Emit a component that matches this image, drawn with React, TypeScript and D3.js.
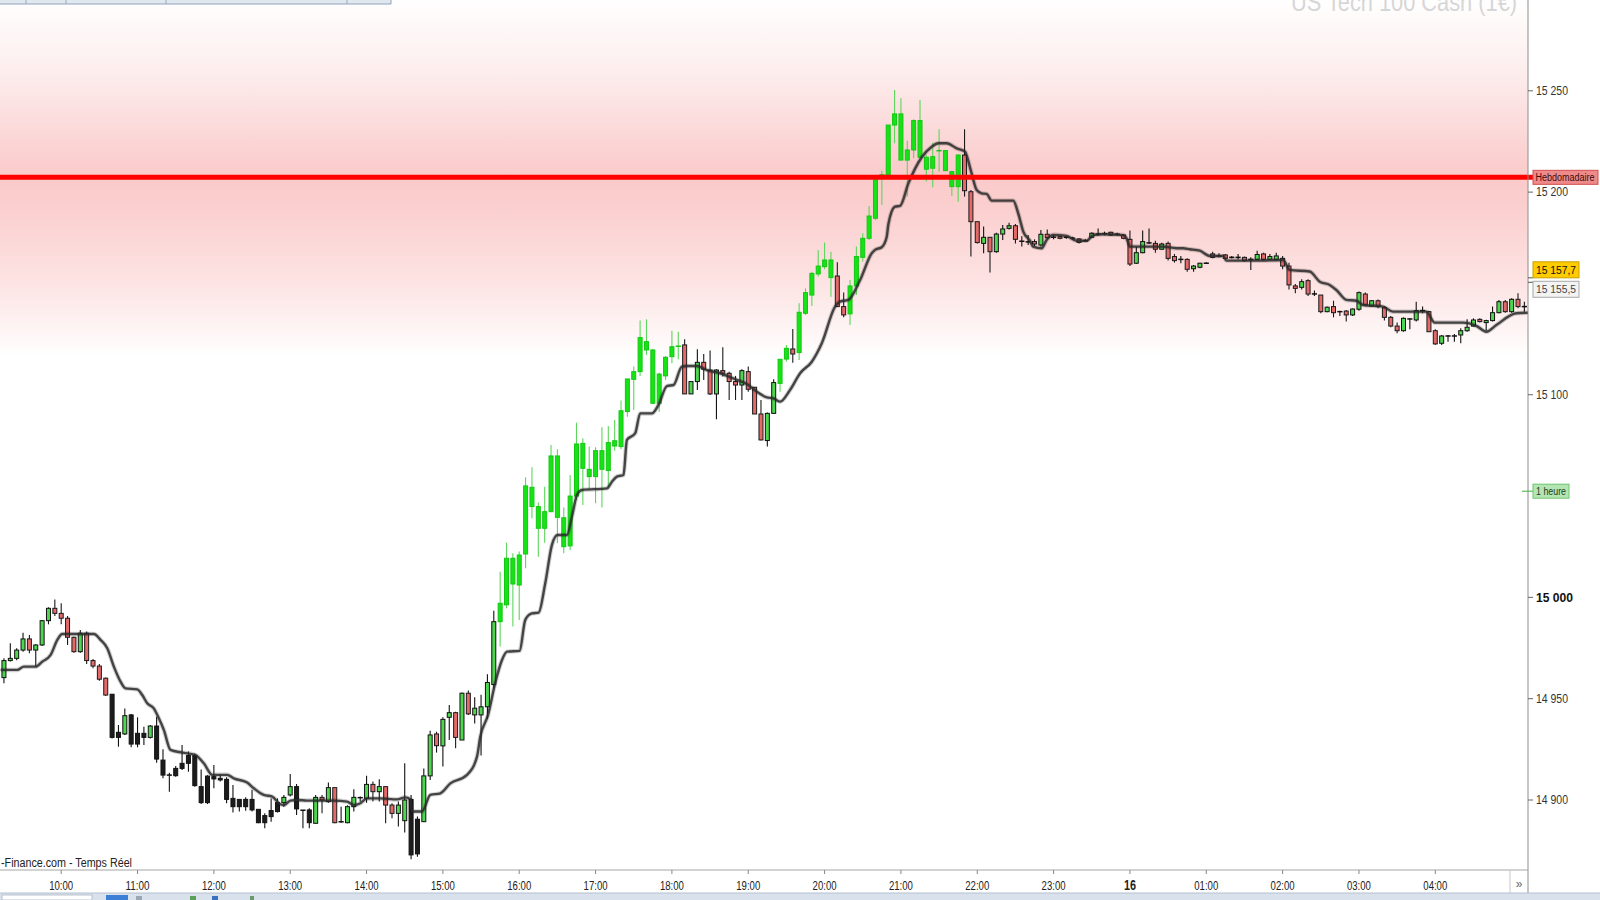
import React from "react";
import * as d3 from "d3";

// ---------- DATA (5-minute candles, US Tech 100 Cash) ----------
const firstCandle = new Date(2021, 6, 15, 9, 15);
const candleStepMin = 5;

const candleOpen = [
  14960.4, 14968.8, 14969.9, 14974.0, 14979.5, 14974.0, 14976.5, 14988.5, 14994.6, 14992.1,
  14989.7, 14980.3, 14973.2, 14982.3, 14968.8, 14966.1, 14960.1, 14952.2, 14933.4, 14932.6,
  14942.0, 14932.9, 14932.9, 14930.9, 14936.5, 14919.7, 14912.6, 14915.6, 14918.1, 14921.9,
  14921.9, 14906.6, 14911.8, 14911.5, 14910.7, 14910.2, 14900.8, 14900.3, 14900.3, 14900.3,
  14895.4, 14892.3, 14894.8, 14898.7, 14898.7, 14902.5, 14906.6, 14895.1, 14895.1, 14888.5,
  14901.3, 14899.2, 14906.1, 14889.5, 14888.8, 14896.7, 14901.3, 14900.8, 14907.7, 14904.1,
  14906.6, 14897.5, 14893.4, 14889.8, 14900.3, 14890.5, 14889.3, 14911.9, 14932.6, 14926.7,
  14940.8, 14943.1, 14929.6, 14952.7, 14942.0, 14942.0, 14946.0, 14957.0, 14988.0, 14996.3,
  15006.6, 15006.1, 15021.4, 15044.8, 15034.1, 15034.1, 15042.3, 15039.5, 15025.0, 15025.4,
  15050.0, 15063.7, 15059.6, 15059.6, 15063.2, 15062.6, 15074.7, 15074.4, 15091.7, 15107.6,
  15111.4, 15122.1, 15095.8, 15095.8, 15109.3, 15118.8, 15123.8, 15124.6, 15100.4, 15106.5,
  15116.0, 15112.2, 15100.4, 15111.9, 15110.6, 15106.5, 15104.8, 15111.4, 15103.7, 15090.5,
  15077.4, 15090.8, 15105.6, 15117.6, 15122.6, 15120.8, 15140.2, 15149.2, 15159.6, 15163.2,
  15157.8, 15158.6, 15143.5, 15139.9, 15153.7, 15167.8, 15177.2, 15187.1, 15208.1, 15208.5,
  15233.1, 15215.8, 15215.8, 15220.8, 15217.2, 15211.3, 15211.8, 15220.1, 15210.6, 15202.7,
  15202.7, 15218.3, 15200.2, 15185.4, 15174.7, 15177.7, 15170.6, 15179.3, 15182.1, 15183.4,
  15175.9, 15175.7, 15175.6, 15173.9, 15179.2, 15178.0, 15178.0, 15177.8, 15177.5, 15176.9,
  15176.1, 15177.7, 15179.4, 15179.6, 15180.2, 15179.3, 15178.8, 15176.7, 15164.9, 15170.1,
  15175.2, 15174.7, 15171.8, 15174.7, 15168.2, 15166.9, 15166.8, 15162.2, 15162.9, 15165.0,
  15169.5, 15168.6, 15169.0, 15167.9, 15167.9, 15167.8, 15166.9, 15166.8, 15169.5, 15166.8,
  15166.8, 15167.3, 15163.5, 15153.7, 15153.0, 15156.3, 15149.9, 15149.2, 15141.0, 15143.5,
  15141.1, 15141.3, 15139.4, 15142.2, 15149.7, 15143.8, 15146.4, 15143.0, 15138.2, 15133.9,
  15131.6, 15137.5, 15136.9, 15141.6, 15141.0, 15131.6, 15125.4, 15129.1, 15129.1, 15129.5,
  15131.6, 15133.9, 15137.2, 15135.6, 15136.6, 15140.5, 15145.9, 15141.0, 15147.1, 15143.6,
];

const candleHigh = [
  14970.0, 14977.3, 14974.9, 14982.6, 14981.4, 14977.0, 14988.8, 14995.1, 14999.0, 14997.1,
  14990.8, 14980.6, 14983.9, 14983.1, 14969.6, 14967.1, 14960.5, 14952.2, 14937.0, 14945.2,
  14942.5, 14940.8, 14936.2, 14937.0, 14941.1, 14925.0, 14913.5, 14916.8, 14927.2, 14923.9,
  14923.0, 14915.1, 14912.3, 14917.3, 14912.4, 14911.2, 14907.4, 14900.3, 14901.3, 14905.0,
  14895.4, 14893.4, 14900.8, 14900.8, 14902.5, 14912.8, 14907.9, 14895.1, 14895.9, 14902.5,
  14902.5, 14908.6, 14906.1, 14896.7, 14897.4, 14905.3, 14901.7, 14912.0, 14909.1, 14910.2,
  14906.6, 14898.4, 14899.2, 14918.1, 14902.5, 14891.8, 14915.6, 14934.2, 14933.7, 14940.8,
  14946.9, 14943.6, 14953.0, 14954.0, 14950.7, 14952.0, 14962.0, 14993.4, 15012.7, 15027.0,
  15021.8, 15022.6, 15059.3, 15064.2, 15046.8, 15054.6, 15075.2, 15073.1, 15044.4, 15060.4,
  15086.2, 15078.5, 15074.4, 15074.1, 15083.9, 15084.6, 15087.5, 15097.1, 15107.8, 15113.9,
  15136.6, 15137.2, 15122.4, 15110.9, 15119.1, 15131.6, 15131.1, 15127.4, 15106.5, 15122.4,
  15120.1, 15121.8, 15112.6, 15123.4, 15111.4, 15109.3, 15112.6, 15113.9, 15103.7, 15097.4,
  15091.2, 15107.6, 15117.5, 15124.6, 15132.5, 15145.1, 15152.5, 15160.7, 15171.4, 15175.1,
  15170.6, 15165.4, 15150.4, 15156.6, 15173.1, 15179.7, 15193.2, 15208.5, 15210.6, 15233.1,
  15250.4, 15246.3, 15225.4, 15235.9, 15245.5, 15218.3, 15224.4, 15231.0, 15220.5, 15210.6,
  15218.8, 15231.0, 15201.0, 15185.4, 15183.0, 15177.7, 15180.0, 15183.8, 15184.9, 15184.3,
  15178.2, 15178.8, 15176.7, 15181.3, 15181.6, 15178.8, 15178.4, 15178.4, 15178.0, 15177.2,
  15176.7, 15180.2, 15182.1, 15180.5, 15180.5, 15180.0, 15179.2, 15181.0, 15173.1, 15181.0,
  15182.1, 15176.0, 15175.0, 15175.6, 15169.5, 15168.5, 15167.3, 15164.0, 15165.2, 15165.4,
  15170.6, 15169.8, 15169.5, 15168.5, 15169.5, 15168.2, 15167.8, 15171.1, 15170.1, 15169.5,
  15170.1, 15168.5, 15165.2, 15154.7, 15157.0, 15157.0, 15151.4, 15149.2, 15143.5, 15146.4,
  15141.5, 15141.8, 15142.6, 15150.9, 15150.4, 15146.7, 15147.0, 15143.8, 15138.9, 15135.6,
  15138.2, 15137.7, 15145.9, 15143.5, 15141.5, 15132.3, 15129.5, 15129.5, 15130.0, 15132.8,
  15137.2, 15137.7, 15137.7, 15137.0, 15143.5, 15146.8, 15146.8, 15147.6, 15150.1, 15145.9,
];

const candleLow = [
  14957.6, 14968.3, 14969.0, 14973.2, 14972.4, 14965.8, 14976.0, 14986.7, 14990.8, 14986.7,
  14976.5, 14972.7, 14972.7, 14967.1, 14965.0, 14958.9, 14951.3, 14930.4, 14926.3, 14932.1,
  14926.0, 14926.0, 14927.2, 14930.4, 14918.4, 14910.7, 14904.1, 14911.5, 14914.8, 14914.0,
  14906.6, 14898.0, 14898.0, 14905.8, 14909.1, 14898.4, 14893.8, 14894.3, 14894.7, 14894.3,
  14888.5, 14886.0, 14889.3, 14893.8, 14896.7, 14901.7, 14892.6, 14886.0, 14886.0, 14888.5,
  14893.4, 14898.7, 14888.5, 14888.8, 14888.5, 14894.3, 14899.2, 14898.7, 14899.2, 14899.2,
  14888.5, 14891.0, 14886.9, 14883.9, 14870.7, 14872.0, 14889.3, 14909.9, 14923.4, 14916.5,
  14929.6, 14925.5, 14929.6, 14942.0, 14937.8, 14922.0, 14940.0, 14955.0, 14975.7, 14994.6,
  14985.6, 14988.8, 15014.4, 15039.0, 15020.1, 15027.0, 15042.0, 15026.7, 15021.8, 15023.4,
  15048.1, 15045.6, 15053.0, 15046.4, 15044.4, 15054.6, 15072.4, 15073.1, 15089.2, 15092.5,
  15109.3, 15119.6, 15095.4, 15091.6, 15107.3, 15115.5, 15117.5, 15100.4, 15100.4, 15102.4,
  15107.3, 15099.9, 15087.9, 15109.0, 15097.4, 15097.4, 15097.4, 15101.5, 15090.5, 15077.4,
  15074.4, 15090.8, 15101.5, 15116.3, 15115.8, 15117.2, 15139.4, 15143.8, 15158.3, 15161.9,
  15148.4, 15143.5, 15138.2, 15134.4, 15149.2, 15165.7, 15176.4, 15186.2, 15193.6, 15208.5,
  15224.1, 15215.8, 15197.8, 15216.7, 15216.7, 15205.2, 15202.4, 15210.1, 15210.6, 15198.1,
  15195.3, 15197.8, 15168.2, 15174.7, 15169.8, 15160.3, 15170.1, 15176.4, 15181.6, 15174.7,
  15173.1, 15173.9, 15173.4, 15173.1, 15176.7, 15176.7, 15176.7, 15177.0, 15176.4, 15174.7,
  15175.4, 15177.2, 15178.4, 15178.7, 15178.4, 15178.7, 15176.7, 15163.5, 15164.5, 15169.8,
  15174.4, 15170.1, 15171.5, 15166.2, 15165.2, 15164.9, 15160.7, 15160.7, 15162.4, 15164.6,
  15167.3, 15167.8, 15166.8, 15167.2, 15166.8, 15165.7, 15161.6, 15166.5, 15166.2, 15166.5,
  15166.2, 15161.9, 15152.0, 15150.1, 15152.0, 15148.7, 15148.7, 15140.2, 15140.7, 15138.2,
  15138.9, 15136.1, 15138.9, 15141.5, 15143.8, 15143.5, 15142.7, 15136.6, 15133.3, 15130.3,
  15131.1, 15132.3, 15136.1, 15140.2, 15131.1, 15124.6, 15124.6, 15126.2, 15126.2, 15125.4,
  15131.1, 15133.6, 15135.6, 15131.6, 15136.1, 15140.2, 15140.5, 15140.5, 15142.7, 15141.0,
];

const candleClose = [
  14968.8, 14969.9, 14974.0, 14979.5, 14974.0, 14976.5, 14988.5, 14994.6, 14992.1, 14989.7,
  14980.3, 14973.2, 14982.3, 14968.8, 14966.1, 14959.6, 14951.8, 14930.9, 14930.9, 14941.6,
  14927.6, 14927.6, 14930.9, 14936.5, 14920.2, 14912.3, 14912.0, 14912.0, 14915.6, 14918.1,
  14907.1, 14898.7, 14898.7, 14910.4, 14909.9, 14900.3, 14896.7, 14896.7, 14896.7, 14895.1,
  14888.8, 14888.8, 14891.8, 14894.3, 14901.3, 14906.6, 14895.6, 14894.8, 14888.8, 14901.3,
  14900.0, 14906.1, 14888.8, 14889.0, 14896.7, 14901.3, 14901.0, 14907.7, 14904.1, 14906.6,
  14897.5, 14893.4, 14897.5, 14900.0, 14872.9, 14873.4, 14911.9, 14932.1, 14926.8, 14939.8,
  14943.1, 14930.9, 14952.7, 14942.5, 14945.3, 14946.0, 14958.0, 14988.0, 14997.1, 15019.3,
  15019.3, 15020.9, 15055.0, 15054.3, 15044.8, 15042.3, 15069.8, 15069.8, 15039.3, 15050.0,
  15075.7, 15076.0, 15063.2, 15072.4, 15072.4, 15076.4, 15077.3, 15092.1, 15107.8, 15111.4,
  15128.2, 15126.2, 15122.1, 15110.2, 15118.5, 15123.7, 15124.1, 15100.4, 15106.5, 15116.0,
  15112.6, 15100.4, 15112.2, 15110.6, 15106.5, 15104.8, 15111.9, 15102.7, 15090.5, 15077.7,
  15090.8, 15106.0, 15117.5, 15122.9, 15120.1, 15140.7, 15150.4, 15159.9, 15163.5, 15166.5,
  15166.5, 15143.5, 15139.4, 15153.7, 15168.2, 15177.2, 15188.2, 15207.3, 15208.8, 15233.1,
  15238.6, 15238.6, 15220.8, 15235.3, 15235.3, 15217.2, 15217.5, 15220.8, 15220.5, 15210.1,
  15218.3, 15200.7, 15185.4, 15175.1, 15177.7, 15170.6, 15179.3, 15181.8, 15183.4, 15176.7,
  15175.6, 15175.2, 15174.4, 15179.2, 15177.5, 15177.5, 15177.2, 15177.6, 15177.0, 15175.2,
  15175.9, 15179.7, 15179.2, 15179.4, 15178.8, 15179.1, 15177.2, 15164.5, 15170.1, 15175.6,
  15174.7, 15171.8, 15174.4, 15167.3, 15166.2, 15166.7, 15161.9, 15163.5, 15164.9, 15164.8,
  15167.8, 15168.4, 15167.3, 15167.7, 15167.7, 15166.2, 15166.6, 15169.2, 15166.8, 15168.2,
  15168.5, 15163.5, 15154.2, 15152.5, 15155.8, 15149.7, 15149.6, 15141.0, 15143.2, 15140.5,
  15140.9, 15139.4, 15142.3, 15150.4, 15144.3, 15146.4, 15143.5, 15138.2, 15133.9, 15131.6,
  15137.7, 15137.3, 15141.5, 15141.4, 15131.1, 15125.1, 15129.0, 15128.9, 15128.9, 15131.6,
  15133.3, 15136.9, 15136.1, 15136.6, 15140.5, 15145.9, 15141.0, 15147.1, 15143.5, 15143.4,
];

// g = green bordered, G = bright green, r = red bordered, k = black
const candleStyle = (
  "ggggrgggrr" + "rrgrrrrkkg" + "kkkgkkkkkk" + "kkkkkkkkkk" + "kkkkggkkkg" +
  "rgrkggkgrg" + "rrggkkggrg" + "grgrggggGG" + "GGGGGGGGGG" + "GGGGGGGGGG" +
  "GGGGGGGrgg" + "rrgrrrgrrr" + "ggGGrGGGGG" + "GrrGGGGGGG" + "GGGGGGGGGG" +
  "Grrrgrgggr" + "kkrgrkrkkr" + "kgkkrkrrgg" + "krgrrkrggk" + "rkrkkrkgrg" +
  "grrrgrkrgr" + "krggrgrrrr" + "gkgkrrgkkg" + "ggrgggrgrk"
).split("");

// moving average: [candle index, value]
const maPoints: [number, number][] = [
  [-0.52, 14964.2], [2.1, 14964.2], [3.14, 14965.8], [4.98, 14965.8], [6.03, 14968.3],
  [7.34, 14971.6], [8.39, 14979.0], [9.17, 14981.9], [14.14, 14981.9], [15.19, 14979.0],
  [16.24, 14974.9], [17.28, 14965.8], [18.33, 14958.4], [19.12, 14955.1], [20.96, 14954.6],
  [21.74, 14951.8], [22.53, 14947.7], [23.56, 14945.2], [24.35, 14940.3], [25.13, 14934.6],
  [26.19, 14924.7], [28.02, 14923.4], [30.11, 14922.2], [31.42, 14918.1], [32.74, 14912.4],
  [35.09, 14912.4], [36.13, 14910.7], [38.23, 14908.6], [39.27, 14905.8], [40.84, 14902.5],
  [42.16, 14901.7], [43.36, 14898.0], [43.98, 14897.5], [45.04, 14899.7], [46.09, 14900.0],
  [47.66, 14899.7], [51.84, 14899.7], [53.94, 14899.2], [54.98, 14897.5], [56.03, 14898.4],
  [57.08, 14900.8], [59.17, 14900.8], [61.8, 14900.3], [63.1, 14901.3], [63.89, 14900.3],
  [64.15, 14894.3], [65.72, 14894.3], [67.03, 14902.5], [68.6, 14903.3], [70.17, 14908.2],
  [72.79, 14912.4], [74.36, 14921.4], [74.88, 14931.3], [76.1, 14942.0], [77.24, 14958.0],
  [78.29, 14969.1], [79.08, 14973.2], [81.06, 14973.6], [81.95, 14988.9], [83.0, 14992.1],
  [84.04, 14992.5], [85.09, 15007.0], [86.14, 15025.9], [87.02, 15030.8], [88.5, 15030.8],
  [89.29, 15039.9], [90.07, 15050.5], [90.86, 15053.0], [94.79, 15053.8], [95.57, 15057.1],
  [96.36, 15059.6], [97.39, 15060.4], [97.93, 15077.7], [99.23, 15081.0], [100.02, 15090.8],
  [101.85, 15090.8], [102.89, 15095.0], [104.21, 15104.3], [105.25, 15104.8], [106.57, 15113.9],
  [107.35, 15114.2], [108.92, 15114.2], [110.49, 15112.2], [112.58, 15110.6], [115.2, 15107.3],
  [116.78, 15105.3], [118.35, 15101.5], [119.92, 15098.7], [120.96, 15098.2], [122.01, 15096.6],
  [123.58, 15102.4], [125.15, 15110.6], [126.99, 15116.3], [128.56, 15125.4], [130.65, 15143.5],
  [131.43, 15146.0], [132.74, 15146.8], [134.58, 15156.6], [136.41, 15169.8], [136.93, 15171.5],
  [137.98, 15172.8], [138.77, 15178.0], [139.02, 15184.0], [140.08, 15192.8], [140.86, 15193.2],
  [142.17, 15204.3], [144.27, 15217.2], [145.84, 15222.4], [146.88, 15224.1], [148.19, 15224.1],
  [149.77, 15221.6], [151.07, 15220.0], [151.97, 15210.9], [152.91, 15201.0], [153.69, 15199.4],
  [154.48, 15199.1], [155.26, 15195.8], [158.65, 15195.8], [159.44, 15189.5], [160.23, 15180.5],
  [161.28, 15176.0], [161.8, 15173.1], [163.11, 15172.3], [163.9, 15176.4], [164.94, 15178.9],
  [167.04, 15178.4], [168.61, 15176.0], [170.19, 15176.0], [171.22, 15178.8], [172.79, 15179.2],
  [175.93, 15178.8], [176.47, 15177.2], [176.99, 15173.1], [182.22, 15173.1], [184.32, 15172.3],
  [185.36, 15172.3], [186.41, 15171.8], [187.98, 15171.1], [189.55, 15168.5], [191.64, 15168.5],
  [192.17, 15166.2], [196.88, 15166.2], [201.07, 15166.5], [202.12, 15161.6], [205.26, 15160.8],
  [206.83, 15155.8], [208.4, 15154.2], [209.45, 15151.7], [211.03, 15146.8], [212.6, 15146.4],
  [213.63, 15144.3], [216.78, 15143.5], [218.35, 15141.0], [223.59, 15141.0], [224.9, 15135.6],
  [229.34, 15135.6], [231.45, 15134.0], [233.02, 15131.1], [234.59, 15134.4], [237.73, 15140.2],
  [239.82, 15140.5],
];

const yTicks = [15250, 15200, 15100, 15000, 14950, 14900];
const xTickLabels = [
  "10:00", "11:00", "12:00", "13:00", "14:00", "15:00", "16:00", "17:00", "18:00", "19:00",
  "20:00", "21:00", "22:00", "23:00", "16", "01:00", "02:00", "03:00", "04:00",
];
const weeklyLevel = 15207.3;
const lastPrice = 15157.7;
const otherPrice = 15155.5;
const hourLevel = 15052.4;

// ---------- COMPONENT ----------
const FONT = "'Liberation Sans', Arial, sans-serif";
const PLOT_R = 1528;
const AXIS_Y = 870;

export default function App() {
  const t = (i: number) => new Date(firstCandle.getTime() + i * candleStepMin * 60000);
  const x = d3
    .scaleTime()
    .domain([new Date(2021, 6, 15, 10, 0), new Date(2021, 6, 16, 4, 0)])
    .range([61.2, 1435.3]);
  const y = d3.scaleLinear().domain([14900, 15250]).range([800.0, 90.8]);

  const tickDates = d3.timeHour.range(new Date(2021, 6, 15, 10, 0), new Date(2021, 6, 16, 4, 1));
  const fmt = (v: number) => d3.format(",")(v).replace(",", " ");
  const fmtDec = (v: number) => d3.format(",.1f")(v).replace(",", " ").replace(".", ",");

  const maLine = d3
    .line<[number, number]>()
    .x((d) => x(t(d[0])))
    .y((d) => y(d[1]))
    .curve(d3.curveMonotoneX)(maPoints) as string;

  const yW = y(weeklyLevel);

  const candles = candleOpen.map((o, i) => {
    const c = candleClose[i];
    const cx = x(t(i));
    const top = y(Math.max(o, c));
    const bot = y(Math.min(o, c));
    const hi = y(candleHigh[i]);
    const lo = y(candleLow[i]);
    const s = candleStyle[i];
    let fill = "#4fd64f", stroke = "#111", wick = "#111";
    if (s === "G") { fill = "#16e316"; stroke = "#12c812"; wick = "#5cd65c"; }
    else if (s === "r") { fill = "#e46a6a"; stroke = "#1a1a1a"; wick = "#1a1a1a"; }
    else if (s === "k") { fill = "#1c1c1c"; stroke = "#111"; wick = "#111"; }
    const h = bot - top;
    return (
      <g key={i}>
        <line x1={cx} x2={cx} y1={hi} y2={lo} stroke={wick} strokeWidth={1.1} />
        {h < 1.5 ? (
          <line x1={cx - 2.6} x2={cx + 2.6} y1={(top + bot) / 2} y2={(top + bot) / 2} stroke={s === "G" ? stroke : "#111"} strokeWidth={1.5} />
        ) : (
          <rect x={cx - 2} y={top} width={4} height={h} fill={fill} stroke={stroke} strokeWidth={1} />
        )}
      </g>
    );
  });

  return (
    <svg
      width={1600}
      height={900}
      viewBox="0 0 1600 900"
      style={{ position: "fixed", left: 0, top: 0, background: "#fff", display: "block" }}
      fontFamily={FONT}
    >
      <defs>
        <linearGradient id="zone" x1="0" y1="0" x2="0" y2="1">
          <stop offset="0" stopColor="#ffffff" />
          <stop offset="0.2" stopColor="#fdeeee" />
          <stop offset="0.42" stopColor="#fbd3d3" />
          <stop offset="0.5" stopColor="#fbcaca" />
          <stop offset="0.6" stopColor="#fbd0d0" />
          <stop offset="0.8" stopColor="#fde4e4" />
          <stop offset="1" stopColor="#ffffff" />
        </linearGradient>
        <clipPath id="plot">
          <rect x={0} y={0} width={PLOT_R} height={AXIS_Y} />
        </clipPath>
      </defs>

      <rect x={0} y={0} width={1600} height={900} fill="#fff" />
      <rect x={0} y={yW - 180} width={PLOT_R} height={360} fill="url(#zone)" />

      {/* watermark title (cut at the top edge as in the source) */}
      <text x={1517} y={11} textAnchor="end" fontSize={26} fill="#d6d6d6" textLength={226} lengthAdjust="spacingAndGlyphs">
        US Tech 100 Cash (1€)
      </text>

      <g clipPath="url(#plot)">
        {candles}
        <path d={maLine} fill="none" stroke="#000" strokeOpacity={0.18} strokeWidth={4.5} strokeLinejoin="round" />
        <path d={maLine} fill="none" stroke="#2b2b2b" strokeOpacity={0.85} strokeWidth={2.4} strokeLinejoin="round" />
      </g>

      {/* weekly red level */}
      <line x1={0} x2={1533} y1={yW} y2={yW} stroke="#ff0000" strokeWidth={5} />

      {/* right axis */}
      <line x1={PLOT_R} x2={PLOT_R} y1={0} y2={893} stroke="#8c8c8c" strokeWidth={1} />
      {yTicks.map((v) => (
        <g key={v}>
          <line x1={PLOT_R} x2={PLOT_R + 5} y1={y(v)} y2={y(v)} stroke="#666" />
          <text
            x={1536}
            y={y(v)}
            dy="0.36em"
            fontSize={12}
            fontWeight={v === 15000 ? "bold" : "normal"}
            fill={v === 15000 ? "#111" : "#333"}
            textLength={v === 15000 ? 37 : 32}
            lengthAdjust="spacingAndGlyphs"
          >
            {fmt(v)}
          </text>
        </g>
      ))}

      {/* price labels */}
      <rect x={1533} y={yW - 7} width={65} height={14} fill="#f08a8a" stroke="#d05050" strokeWidth={1} />
      <text x={1535.5} y={yW} dy="0.35em" fontSize={10} fill="#3a0d0d" textLength={59} lengthAdjust="spacingAndGlyphs">
        Hebdomadaire
      </text>

      <line x1={PLOT_R} x2={1533} y1={y(lastPrice)} y2={y(lastPrice)} stroke="#555" />
      <line x1={PLOT_R} x2={1533} y1={y(otherPrice)} y2={y(otherPrice)} stroke="#555" />
      <rect x={1533} y={y(lastPrice) - 16} width={46} height={16} fill="#ffcc00" stroke="#c9a000" strokeWidth={1} />
      <text x={1536} y={y(lastPrice) - 8} dy="0.36em" fontSize={11} fill="#111" textLength={40} lengthAdjust="spacingAndGlyphs">
        {fmtDec(lastPrice)}
      </text>
      <rect x={1533} y={y(otherPrice) - 1} width={46} height={16} fill="#f3f3f3" stroke="#a8a8a8" strokeWidth={1} />
      <text x={1536} y={y(otherPrice) + 7} dy="0.36em" fontSize={11} fill="#444" textLength={40} lengthAdjust="spacingAndGlyphs">
        {fmtDec(otherPrice)}
      </text>

      <line x1={PLOT_R - 6} x2={1533} y1={y(hourLevel)} y2={y(hourLevel)} stroke="#3cb43c" />
      <rect x={1533} y={y(hourLevel) - 7} width={36} height={14} fill="#b4e6b4" stroke="#6cc46c" strokeWidth={1} />
      <text x={1536} y={y(hourLevel)} dy="0.35em" fontSize={10} fill="#1d3d1d" textLength={30} lengthAdjust="spacingAndGlyphs">
        1 heure
      </text>

      {/* bottom axis */}
      <line x1={0} x2={PLOT_R} y1={AXIS_Y} y2={AXIS_Y} stroke="#a6a6a6" />
      {tickDates.map((d, i) => (
        <g key={i}>
          <line x1={x(d)} x2={x(d)} y1={AXIS_Y} y2={AXIS_Y + 4} stroke="#888" />
          <text
            x={x(d)}
            y={885}
            textAnchor="middle"
            dy="0.35em"
            fontSize={xTickLabels[i] === "16" ? 14 : 13}
            fontWeight={xTickLabels[i] === "16" ? "bold" : "normal"}
            fill="#222"
            textLength={xTickLabels[i] === "16" ? 12 : 24}
            lengthAdjust="spacingAndGlyphs"
          >
            {xTickLabels[i]}
          </text>
        </g>
      ))}
      <line x1={1510} x2={1510} y1={AXIS_Y} y2={893} stroke="#c8c8c8" />
      <text x={1519} y={884} textAnchor="middle" dy="0.35em" fontSize={12} fill="#666">»</text>

      <text x={1} y={863} dy="0.35em" fontSize={12} fill="#222" textLength={131} lengthAdjust="spacingAndGlyphs">
        -Finance.com - Temps Réel
      </text>

      {/* top-left toolbar fragment */}
      <rect x={0} y={0} width={391} height={4} fill="#dfe7ef" />
      <line x1={0} x2={391} y1={4} y2={4} stroke="#8fa3b8" />
      <line x1={391} x2={391} y1={0} y2={4} stroke="#8fa3b8" />
      {[26, 66, 166, 347].map((sx) => (
        <line key={sx} x1={sx} x2={sx} y1={0} y2={4} stroke="#9aaabb" />
      ))}

      {/* bottom toolbar fragment */}
      <rect x={0} y={893} width={1600} height={7} fill="#d9e2ec" />
      <line x1={0} x2={1600} y1={893} y2={893} stroke="#b3c0ce" />
      <rect x={2} y={895} width={90} height={5} fill="#fff" stroke="#b9c4d0" />
      <rect x={106} y={895} width={22} height={5} fill="#3b7fd6" />
      <rect x={136} y={896} width={6} height={4} fill="#9aa8b6" />
      <rect x={190} y={896} width={6} height={4} fill="#5aa05a" />
      <rect x={212} y={896} width={6} height={4} fill="#3b6fc0" />
      <rect x={250} y={896} width={4} height={4} fill="#6a9a6a" />
    </svg>
  );
}
